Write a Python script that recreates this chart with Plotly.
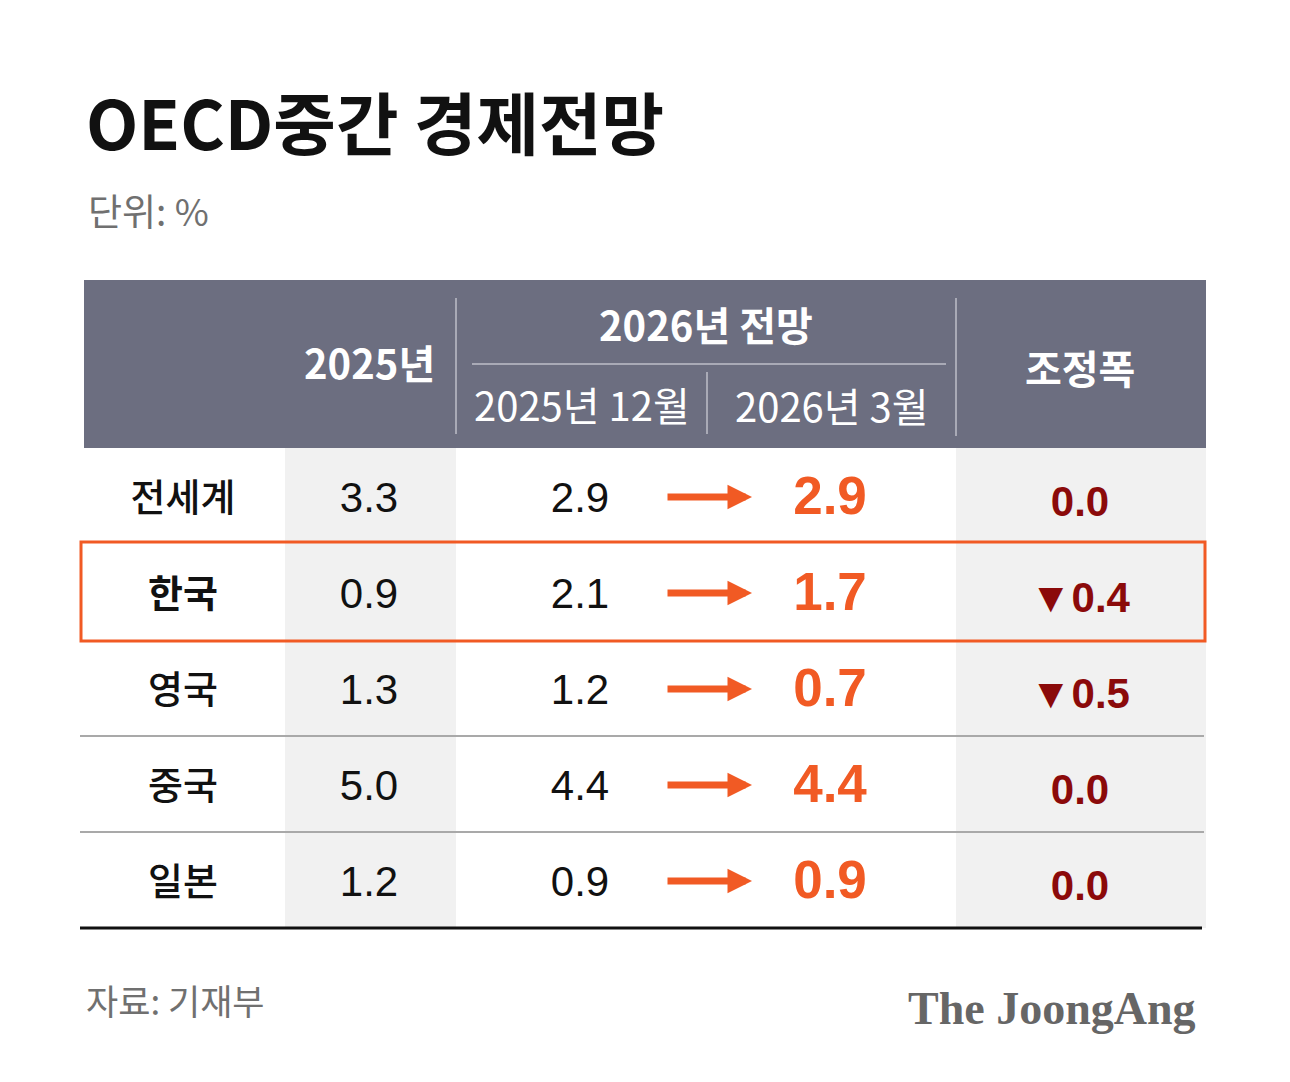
import plotly.graph_objects as go

# ---- data ----
countries = ["전세계", "한국", "영국", "중국", "일본"]
val_2025 = [3.3, 0.9, 1.3, 5.0, 1.2]
fc_2025_dec = [2.9, 2.1, 1.2, 4.4, 0.9]
fc_2026_mar = [2.9, 1.7, 0.7, 4.4, 0.9]
adjustment = [0.0, -0.4, -0.5, 0.0, 0.0]
highlight = "한국"

col_headers = ["2025년", "2026년 전망", "2025년 12월", "2026년 3월", "조정폭"]
title = "OECD중간 경제전망"
unit = "단위: %"
source = "자료: 기재부"
brand = "The JoongAng"

# ---- layout constants (pixel-like canvas) ----
W, H = 1290, 1082
OFF = 8  # page body margin
KR = "Noto Sans CJK KR"
NUM = "Liberation Sans, Arial"
GRAY_HDR = "#6c6e80"
LIGHT = "#f1f1f1"
ORANGE = "#f15a24"
DARKRED = "#8b0a0a"

tbl_left, tbl_right = 84, 1206
hdr_top, hdr_bot = 280, 448
row_h = 96
col_edges = [84, 285, 456, 707, 956, 1206]
lab_x = 183
c2025_x = 369
dec_x = 580
mar_x = 830
adj_x = 1080
arrow_x0, arrow_x1 = 666, 752
dy = 5

n = len(countries)
row_y = [hdr_bot + (i + 0.5) * row_h for i in range(n)]
row_edge = [hdr_bot + i * row_h for i in range(n + 1)]

fig = go.Figure()
shapes = []
shapes.append(dict(type="rect", xref="x", yref="y", x0=tbl_left, x1=tbl_right,
                   y0=hdr_top, y1=hdr_bot, fillcolor=GRAY_HDR, line_width=0, layer="below"))
for (a, b) in [(col_edges[1], col_edges[2]), (col_edges[4], col_edges[5])]:
    shapes.append(dict(type="rect", xref="x", yref="y", x0=a, x1=b,
                       y0=hdr_bot, y1=row_edge[-1], fillcolor=LIGHT, line_width=0, layer="below"))
shapes.append(dict(type="line", xref="x", yref="y", x0=col_edges[2], x1=col_edges[2],
                   y0=hdr_top + 18, y1=hdr_bot - 14, line=dict(color="#e6e6ec", width=1)))
shapes.append(dict(type="line", xref="x", yref="y", x0=col_edges[4], x1=col_edges[4],
                   y0=hdr_top + 18, y1=hdr_bot - 12, line=dict(color="#e6e6ec", width=1)))
shapes.append(dict(type="line", xref="x", yref="y", x0=col_edges[2] + 16, x1=col_edges[4] - 10,
                   y0=364, y1=364, line=dict(color="#e6e6ec", width=1)))
shapes.append(dict(type="line", xref="x", yref="y", x0=col_edges[3], x1=col_edges[3],
                   y0=372, y1=hdr_bot - 14, line=dict(color="#e6e6ec", width=1)))
hi = countries.index(highlight)
for i in range(1, n):
    if i in (hi, hi + 1):
        continue
    shapes.append(dict(type="line", xref="x", yref="y", x0=80, x1=1204,
                       y0=row_edge[i], y1=row_edge[i], line=dict(color="#a9a9a9", width=2)))
shapes.append(dict(type="line", xref="x", yref="y", x0=80, x1=1202,
                   y0=row_edge[-1], y1=row_edge[-1], line=dict(color="#111111", width=3)))
shapes.append(dict(type="rect", xref="x", yref="y", x0=81, x1=1205,
                   y0=row_edge[hi] - 2, y1=row_edge[hi + 1] + 1,
                   line=dict(color=ORANGE, width=3), fillcolor="rgba(0,0,0,0)"))

# ---- table text via traces ----
ty = [y + dy for y in row_y]
fig.add_trace(go.Scatter(
    x=[lab_x] * n, y=ty, mode="text", text=[f"<b>{c}</b>" if c == highlight else c for c in countries],
    textfont=dict(family=KR, size=38, color="#111111", weight=500), hoverinfo="skip"))
fig.add_trace(go.Scatter(
    x=[c2025_x] * n, y=ty, mode="text", text=[f"{v:.1f}" for v in val_2025],
    textfont=dict(family=NUM, size=42, color="#111111"), hoverinfo="skip"))
fig.add_trace(go.Scatter(
    x=[dec_x] * n, y=ty, mode="text", text=[f"{v:.1f}" for v in fc_2025_dec],
    textfont=dict(family=NUM, size=42, color="#111111"), hoverinfo="skip"))
fig.add_trace(go.Scatter(
    x=[mar_x] * n, y=ty, mode="text", text=[f"<b>{v:.1f}</b>" for v in fc_2026_mar],
    textfont=dict(family=NUM, size=53, color=ORANGE), hoverinfo="skip"))
fig.add_trace(go.Scatter(
    x=[adj_x] * n, y=[y + 4 for y in ty], mode="text",
    text=[("<b>0.0</b>" if v == 0 else f"<b>{'▼' if v < 0 else '▲'}{abs(v):.1f}</b>") for v in adjustment],
    textfont=dict(family=NUM, size=42, color=DARKRED), hoverinfo="skip"))

annotations = []
for y in row_y:
    annotations.append(dict(x=arrow_x1, y=y + 1, ax=arrow_x0, ay=y + 1, xref="x", yref="y",
                            axref="x", ayref="y", text="", showarrow=True, arrowhead=2,
                            arrowsize=0.7, arrowwidth=7, arrowcolor=ORANGE))
hdr_font_b = dict(family=KR, size=40, color="white")
annotations += [
    dict(x=c2025_x, y=362, text=f"<b>{col_headers[0]}</b>", font=hdr_font_b),
    dict(x=(col_edges[2] + col_edges[4]) / 2, y=324, text=f"<b>{col_headers[1]}</b>", font=hdr_font_b),
    dict(x=582, y=404, text=col_headers[2], font=dict(family=KR, size=40, color="white")),
    dict(x=832, y=405, text=col_headers[3], font=dict(family=KR, size=40, color="white")),
    dict(x=adj_x, y=367, text=f"<b>{col_headers[4]}</b>", font=hdr_font_b),
]
for a in annotations[-5:]:
    a.update(xref="x", yref="y", showarrow=False, xanchor="center", yanchor="middle")

annotations += [
    dict(x=84, y=120, xref="x", yref="y", text=f"<b>{title}</b>", showarrow=False,
         xanchor="left", yanchor="middle", font=dict(family=KR, size=68, color="#111111", weight=900)),
    dict(x=86, y=210, xref="x", yref="y", text=unit, showarrow=False,
         xanchor="left", yanchor="middle", font=dict(family=KR, size=37, color="#707070")),
    dict(x=84, y=999, xref="x", yref="y", text=source, showarrow=False,
         xanchor="left", yanchor="middle", font=dict(family=KR, size=35, color="#707070")),
    dict(x=1198, y=1008, xref="x", yref="y", text=f"<b>{brand}</b>", showarrow=False,
         xanchor="right", yanchor="middle", font=dict(family="Liberation Serif", size=46, color="#666666")),
]

fig.update_layout(
    width=W, height=H, margin=dict(l=0, r=0, t=0, b=0),
    paper_bgcolor="white", plot_bgcolor="white", showlegend=False,
    xaxis=dict(range=[OFF, W + OFF], visible=False, fixedrange=True),
    yaxis=dict(range=[H + OFF, OFF], visible=False, fixedrange=True),
    shapes=shapes, annotations=annotations,
)
fig.write_html("out.html")
